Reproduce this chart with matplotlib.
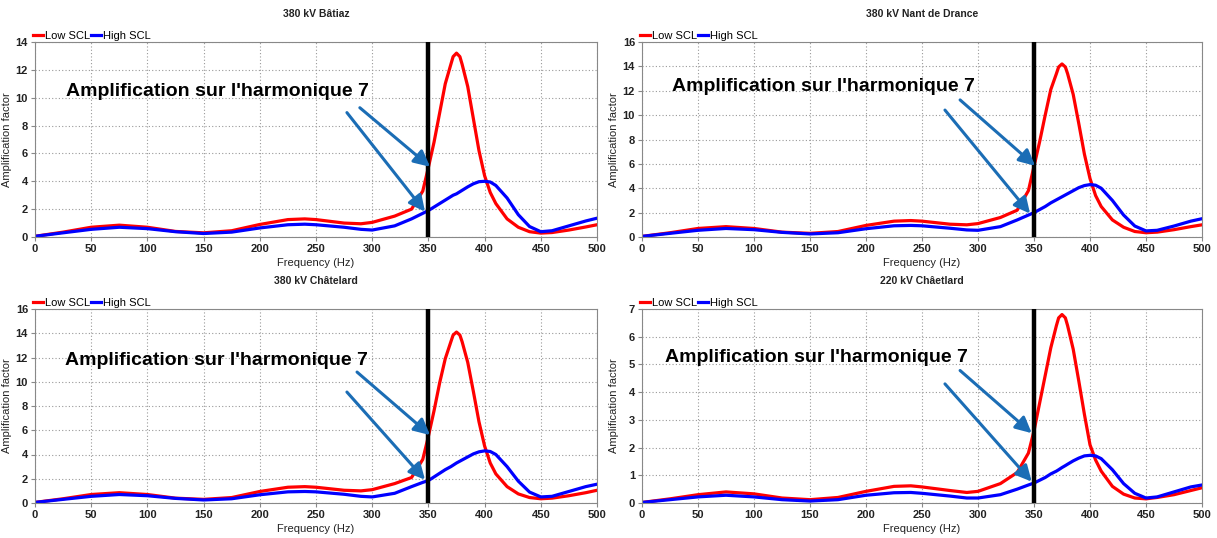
import numpy as np
import matplotlib.pyplot as plt

plt.rcParams['font.family'] = ['Liberation Sans', 'DejaVu Sans']

# fréquences (Hz)
freq = [0, 25, 50, 75, 100, 125, 150, 175, 200, 225, 240, 250, 275, 290, 300, 320, 335, 345, 350,
        355, 360, 365, 370, 372, 375, 378, 380, 385, 390, 395, 400, 405, 410, 420, 430, 440, 450, 460, 475, 490, 500]

batiaz_low = [0.05, 0.35, 0.7, 0.85, 0.7, 0.4, 0.3, 0.45, 0.9, 1.25, 1.3, 1.25, 1.0, 0.95, 1.05, 1.5, 2.0, 3.3, 5.0,
              6.8, 8.9, 11.0, 12.4, 12.95, 13.2, 12.95, 12.4, 10.8, 8.5, 6.2, 4.4, 3.2, 2.4, 1.3, 0.7, 0.38, 0.28, 0.32, 0.5, 0.72, 0.88]
batiaz_high = [0.05, 0.3, 0.55, 0.7, 0.6, 0.38, 0.25, 0.35, 0.65, 0.88, 0.92, 0.88, 0.7, 0.55, 0.5, 0.8, 1.3, 1.7, 1.9,
               2.15, 2.4, 2.65, 2.9, 3.0, 3.1, 3.25, 3.35, 3.6, 3.82, 3.97, 4.0, 3.95, 3.7, 2.8, 1.6, 0.75, 0.38, 0.45, 0.8, 1.15, 1.35]

nant_low = [0.05, 0.35, 0.7, 0.85, 0.7, 0.4, 0.3, 0.45, 0.95, 1.3, 1.35, 1.3, 1.05, 1.0, 1.1, 1.6, 2.2, 3.8, 5.8,
            7.8, 10.0, 12.1, 13.4, 13.95, 14.2, 13.95, 13.4, 11.7, 9.3, 6.8, 4.8, 3.4, 2.5, 1.4, 0.8, 0.45, 0.35, 0.4, 0.6, 0.85, 1.0]
nant_high = [0.05, 0.3, 0.55, 0.7, 0.6, 0.38, 0.25, 0.35, 0.68, 0.92, 0.95, 0.92, 0.72, 0.58, 0.55, 0.85, 1.4, 1.8, 2.0,
             2.25, 2.5, 2.8, 3.05, 3.15, 3.3, 3.45, 3.55, 3.8, 4.05, 4.22, 4.3, 4.25, 4.0, 3.0, 1.8, 0.9, 0.5, 0.55, 0.9, 1.3, 1.5]

chat380_low = [0.05, 0.35, 0.7, 0.85, 0.7, 0.4, 0.3, 0.45, 0.95, 1.3, 1.35, 1.3, 1.05, 1.0, 1.1, 1.6, 2.1, 3.6, 5.5,
               7.6, 9.9, 11.9, 13.3, 13.85, 14.1, 13.85, 13.3, 11.6, 9.2, 6.7, 4.7, 3.3, 2.4, 1.35, 0.75, 0.45, 0.35, 0.4, 0.6, 0.85, 1.05]
chat380_high = [0.05, 0.3, 0.55, 0.7, 0.6, 0.38, 0.25, 0.35, 0.68, 0.92, 0.95, 0.92, 0.72, 0.55, 0.5, 0.8, 1.35, 1.7, 1.85,
                2.15, 2.45, 2.75, 3.0, 3.12, 3.3, 3.45, 3.55, 3.8, 4.05, 4.22, 4.3, 4.25, 4.0, 3.0, 1.8, 0.9, 0.5, 0.55, 0.95, 1.35, 1.55]

chat220_low = [0.02, 0.15, 0.3, 0.4, 0.33, 0.18, 0.12, 0.2, 0.42, 0.6, 0.62, 0.58, 0.45, 0.38, 0.42, 0.7, 1.1, 1.8, 2.6,
               3.6, 4.6, 5.6, 6.4, 6.68, 6.8, 6.68, 6.4, 5.55, 4.4, 3.2, 2.1, 1.55, 1.15, 0.6, 0.32, 0.18, 0.15, 0.2, 0.3, 0.45, 0.55]
chat220_high = [0.02, 0.12, 0.22, 0.28, 0.22, 0.12, 0.07, 0.12, 0.28, 0.37, 0.38, 0.35, 0.25, 0.18, 0.18, 0.3, 0.5, 0.65, 0.72,
                0.82, 0.92, 1.05, 1.15, 1.2, 1.28, 1.35, 1.4, 1.52, 1.62, 1.7, 1.72, 1.7, 1.6, 1.2, 0.7, 0.35, 0.18, 0.22, 0.4, 0.58, 0.65]

titles = ["380 kV Bâtiaz", "380 kV Nant de Drance", "380 kV Châtelard", "220 kV Châetlard"]
ymax = [14, 16, 16, 7]
ystep = [2, 2, 2, 1]
harm7 = 350

panels = [(batiaz_low, batiaz_high), (nant_low, nant_high),
          (chat380_low, chat380_high), (chat220_low, chat220_high)]

# position des axes en pixels (gauche, haut, largeur, hauteur)
W, H = 1217, 538
boxes = [(35, 42, 562, 195), (642, 42, 560, 195), (35, 309, 562, 194), (642, 309, 560, 194)]
# texte et flèches en coordonnées axes
txt_pos = [(0.055, 0.745), (0.054, 0.77), (0.053, 0.737), (0.041, 0.75)]
arrows = [[((0.578, 0.663), (0.703, 0.36)), ((0.555, 0.638), (0.694, 0.13))],
          [((0.568, 0.703), (0.702, 0.365)), ((0.541, 0.651), (0.693, 0.12))],
          [((0.573, 0.675), (0.703, 0.35)), ((0.555, 0.572), (0.694, 0.12))],
          [((0.568, 0.683), (0.696, 0.36)), ((0.541, 0.614), (0.696, 0.11))]]

fig = plt.figure(figsize=(W / 100, H / 100), dpi=100)

for i in range(4):
    l, t, w, h = boxes[i]
    ax = fig.add_axes([l / W, (H - t - h) / H, w / W, h / H])
    low, high = panels[i]
    ax.plot(freq, low, color='#ff0000', linewidth=2.3, label='Low SCL')
    ax.plot(freq, high, color='#0000ff', linewidth=2.3, label='High SCL')
    ax.axvline(harm7, color='black', linewidth=3.2, zorder=5)

    ax.set_xlim(0, 500)
    ax.set_ylim(0, ymax[i])
    ax.set_xticks(np.arange(0, 501, 50))
    ax.set_yticks(np.arange(0, ymax[i] + 0.1, ystep[i]))
    ax.grid(True, linestyle=(0, (1, 2)), color='#999999', linewidth=0.8)
    for s in ax.spines.values():
        s.set_color('#888888')
    ax.tick_params(labelsize=8, length=3, color='#888888', pad=2)
    for lab in ax.get_xticklabels() + ax.get_yticklabels():
        lab.set_fontweight('bold')
        lab.set_color('#222222')
    ax.set_xlabel('Frequency (Hz)', fontsize=8, labelpad=3, color='#222222')
    ax.set_ylabel('Amplification factor', fontsize=8, color='#222222')
    ax.yaxis.set_label_coords(-23 / w, 0.5)

    ax.text(0.5, 1 + 28 / h, titles[i], transform=ax.transAxes, ha='center', va='center',
            fontsize=7.5, fontweight='bold', color='#222222')
    ax.legend(loc='lower left', bbox_to_anchor=(-0.005, 1.0), ncol=2, frameon=False,
              fontsize=8, handlelength=0.9, handletextpad=0.15, columnspacing=0.1,
              borderaxespad=0.1, borderpad=0.0)

    ax.text(txt_pos[i][0], txt_pos[i][1], "Amplification sur l'harmonique 7", transform=ax.transAxes,
            ha='left', va='center', fontsize=14, fontweight='bold', color='black', zorder=6)
    for start, end in arrows[i]:
        ax.annotate('', xy=end, xytext=start, xycoords='axes fraction', textcoords='axes fraction',
                    arrowprops=dict(arrowstyle='-|>', color='#1b6db5', lw=2.2, mutation_scale=24,
                                    shrinkA=0, shrinkB=0), zorder=7)

fig.savefig('out.png', dpi=100)
